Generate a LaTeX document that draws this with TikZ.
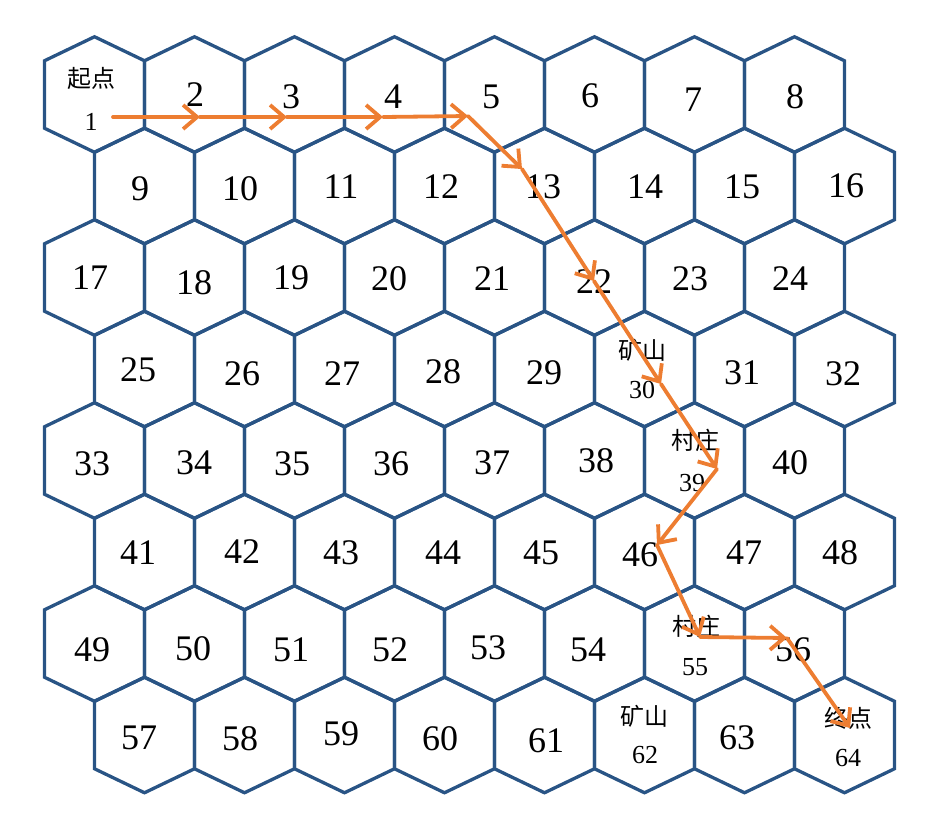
\documentclass[tikz,border=0pt]{standalone}
\usepackage{fontspec}
\setmainfont{Liberation Serif}
\newfontfamily\cjk{Noto Sans CJK SC}
\usetikzlibrary{arrows.meta}
\definecolor{hexblue}{RGB}{41,84,133}
\definecolor{pathorange}{RGB}{237,125,49}
\begin{document}
\begin{tikzpicture}[x=1pt,y=-1pt,
  hexagon/.style={draw=hexblue,line width=3.3pt,line join=miter},
  big/.style={inner sep=0pt,font=\fontsize{36}{38}\selectfont},
  small/.style={inner sep=0pt,font=\fontsize{26}{28}\selectfont},
  cn/.style={inner sep=0pt,font=\cjk\fontsize{24}{26}\selectfont},
  route/.style={draw=pathorange,line width=3.8pt,line cap=round,
    -{Straight Barb[length=14pt,width=24pt,line width=3.8pt]}}]
\useasboundingbox (0,0) rectangle (943,831);
% hexagon grid
\foreach \r in {1,...,8}{
  \foreach \c in {1,...,8}{
    \pgfmathsetmacro\cx{94.5+100*(\c-1)+50*(1-mod(\r,2))}
    \pgfmathsetmacro\cy{94.5+91.5*(\r-1)}
    \draw[hexagon] (\cx,\cy-57.75) -- (\cx+50,\cy-33.75) -- (\cx+50,\cy+33.75)
      -- (\cx,\cy+57.75) -- (\cx-50,\cy+33.75) -- (\cx-50,\cy-33.75) -- cycle;
  }
}
% large numbers
\foreach \n/\x/\y in {
  2/195/95, 3/291/97, 4/393/97, 5/491/97, 6/590/96, 7/693/100, 8/795/97,
  9/140/189, 10/240/189, 11/341/187, 12/441/187, 13/543/187, 14/645/187, 15/742/187, 16/846/186,
  17/90/278, 18/194/283, 19/291/278, 20/389/279, 21/492/279, 22/594/282, 23/690/279, 24/790/279,
  25/138/370, 26/242/374, 27/342/374, 28/443/372, 29/544/373, 31/742/373, 32/843/374,
  33/92/464, 34/194/463, 35/292/464, 36/391/464, 37/492/463, 38/596/461, 40/790/463,
  41/138/553, 42/242/552, 43/341/553, 44/443/553, 45/541/553, 46/640/555, 47/744/553, 48/840/553,
  49/92/650, 50/193/649, 51/291/650, 52/390/650, 53/488/648, 54/588/650, 56/793/650,
  57/139/738, 58/240/739, 59/341/734, 60/440/739, 61/546/741, 63/737/738}{
  \node[big] (n\n) at (\x,\y) {\n};
}
% labelled cells
\node[cn] (lab1) at (91,78) {起点};
\node[small] (n1) at (91,122) {1};
\node[cn] (lab30) at (642,350) {矿山};
\node[small] (n30) at (642,390) {30};
\node[cn] (lab39) at (695,440) {村庄};
\node[small] (n39) at (692,483) {39};
\node[cn] (lab55) at (696,626) {村庄};
\node[small] (n55) at (695,667) {55};
\node[cn] (lab62) at (644,716) {矿山};
\node[small] (n62) at (645,755) {62};
\node[cn] (lab64) at (848,718) {终点};
\node[small] (n64) at (848,758) {64};
% route
\coordinate (p0) at (113,117);
\coordinate (a1) at (200,117);
\coordinate (a2) at (287,117);
\coordinate (a3) at (383,117);
\coordinate (a4) at (468,116);
\coordinate (a5) at (522,169);
\coordinate (a6) at (594,281);
\coordinate (a7) at (661,384);
\coordinate (a8) at (717,469);
\coordinate (a9) at (657,545);
\coordinate (a10) at (700,637);
\coordinate (a11) at (787,638);
\coordinate (a12) at (850,728);
\draw[route] (p0) -- (a1);
\draw[route] (a1) -- (a2);
\draw[route] (a2) -- (a3);
\draw[route] (a3) -- (a4);
\draw[route] (a4) -- (a5);
\draw[route] (a5) -- (a6);
\draw[route] (a6) -- (a7);
\draw[route] (a7) -- (a8);
\draw[route] (a8) -- (a9);
\draw[route] (a9) -- (a10);
\draw[route] (a10) -- (a11);
\draw[route] (a11) -- (a12);
\end{tikzpicture}
\end{document}
